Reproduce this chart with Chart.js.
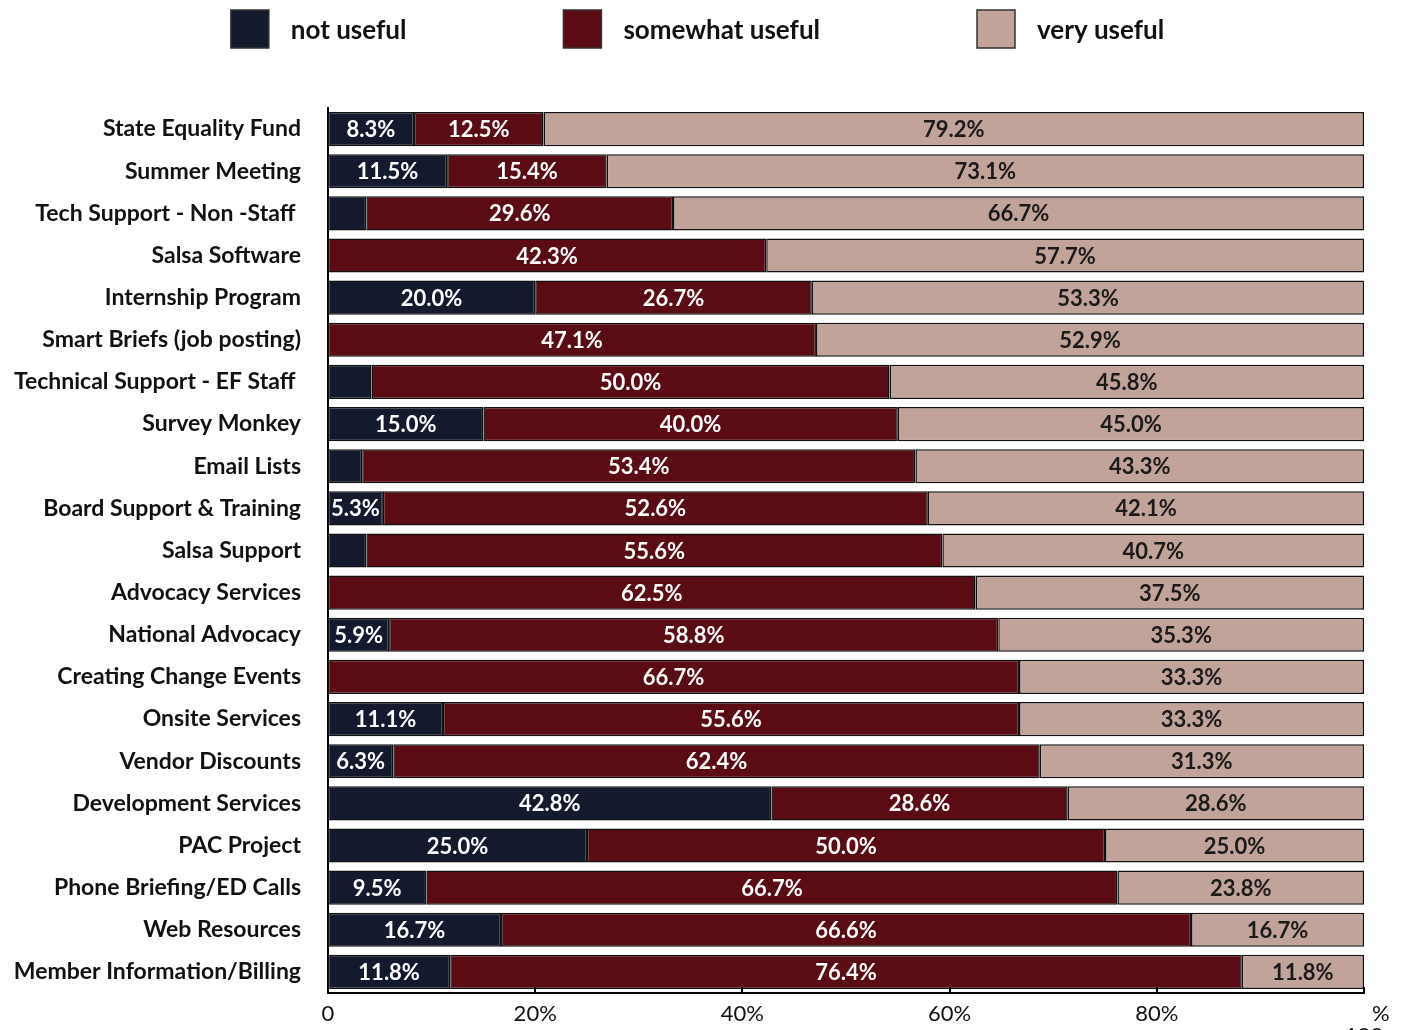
<!DOCTYPE html>
<html>
<head>
<meta charset="utf-8">
<script src="https://cdn.jsdelivr.net/npm/chart.js@4.4.1/dist/chart.umd.min.js"></script>
<style>
  html, body { margin: 0; padding: 0; background: #fff; }
  #wrap { width: 1407px; height: 1030px; }
</style>
</head>
<body>
<div id="wrap"><canvas id="usefulChart" width="1407" height="1030"></canvas></div>
<script>
const categories = [
  "State Equality Fund", "Summer Meeting", "Tech Support - Non -Staff ", "Salsa Software",
  "Internship Program", "Smart Briefs (job posting)", "Technical Support - EF Staff ",
  "Survey Monkey", "Email Lists", "Board Support & Training", "Salsa Support",
  "Advocacy Services", "National Advocacy", "Creating Change Events", "Onsite Services",
  "Vendor Discounts", "Development Services", "PAC Project", "Phone Briefing/ED Calls",
  "Web Resources", "Member Information/Billing"
];
const notUseful = [8.3, 11.5, 3.7, 0, 20.0, 0, 4.2, 15.0, 3.3, 5.3, 3.7, 0, 5.9, 0, 11.1, 6.3, 42.8, 25.0, 9.5, 16.7, 11.8];
const somewhatUseful = [12.5, 15.4, 29.6, 42.3, 26.7, 47.1, 50.0, 40.0, 53.4, 52.6, 55.6, 62.5, 58.8, 66.7, 55.6, 62.4, 28.6, 50.0, 66.7, 66.6, 76.4];
const veryUseful = [79.2, 73.1, 66.7, 57.7, 53.3, 52.9, 45.8, 45.0, 43.3, 42.1, 40.7, 37.5, 35.3, 33.3, 33.3, 31.3, 28.6, 25.0, 23.8, 16.7, 11.8];
const xTicks = [0, 20, 40, 60, 80, 100];

const FONT = "Lato, 'Open Sans', sans-serif";

// percentage text inside each segment (small slivers are left blank)
const segmentLabels = {
  id: "segmentLabels",
  afterDatasetsDraw(chart) {
    const ctx = chart.ctx;
    ctx.save();
    ctx.font = "bold 22px " + FONT;
    ctx.textAlign = "center";
    ctx.textBaseline = "middle";
    chart.data.datasets.forEach((ds, i) => {
      chart.getDatasetMeta(i).data.forEach((bar, j) => {
        const v = ds.data[j];
        if (v < 5) return;
        const c = bar.getCenterPoint();
        ctx.fillStyle = ds.labelColor;
        ctx.fillText(v.toFixed(1) + "%", c.x, c.y + 1);
      });
    });
    ctx.restore();
  }
};

// short tick marks pointing up from the bottom axis
const innerTicks = {
  id: "innerTicks",
  afterDraw(chart) {
    const ctx = chart.ctx, x = chart.scales.x, bottom = chart.chartArea.bottom;
    ctx.save();
    ctx.strokeStyle = "#000";
    ctx.lineWidth = 2;
    xTicks.forEach(t => {
      const px = Math.round(x.getPixelForValue(t));
      ctx.beginPath();
      ctx.moveTo(px, bottom);
      ctx.lineTo(px, bottom - 6);
      ctx.stroke();
    });
    ctx.restore();
  }
};

// legend row across the top: square swatch, then the series name
const topLegend = {
  id: "topLegend",
  afterDraw(chart) {
    const ctx = chart.ctx, box = 38, gap = 22, spacing = 157, cy = 29;
    ctx.save();
    ctx.font = "bold 26px " + FONT;
    ctx.textBaseline = "middle";
    const items = chart.data.datasets.map(ds => ({ ds, w: ctx.measureText(ds.label).width }));
    const total = items.reduce((s, it) => s + box + gap + it.w, 0) + spacing * (items.length - 1);
    let x = (chart.width - total) / 2 - 6;
    items.forEach(it => {
      ctx.fillStyle = it.ds.backgroundColor;
      ctx.fillRect(x, cy - box / 2, box, box);
      ctx.strokeStyle = "#333";
      ctx.lineWidth = 1.5;
      ctx.strokeRect(x, cy - box / 2, box, box);
      ctx.fillStyle = "#111";
      ctx.fillText(it.ds.label, x + box + gap, cy + 2);
      x += box + gap + it.w + spacing;
    });
    ctx.restore();
  }
};

new Chart(document.getElementById("usefulChart").getContext("2d"), {
  type: "bar",
  data: {
    labels: categories,
    datasets: [
      { label: "not useful", data: notUseful, backgroundColor: "#131a2e", labelColor: "#ffffff" },
      { label: "somewhat useful", data: somewhatUseful, backgroundColor: "#5b0b13", labelColor: "#ffffff" },
      { label: "very useful", data: veryUseful, backgroundColor: "#c1a39a", labelColor: "#1a1a1a" }
    ].map(d => Object.assign(d, {
      borderColor: "#111",
      borderWidth: 1.5,
      borderSkipped: false,
      categoryPercentage: 1,
      barPercentage: 0.81
    }))
  },
  options: {
    indexAxis: "y",
    responsive: false,
    maintainAspectRatio: false,
    animation: false,
    layout: { padding: { top: 108, right: 43, left: 0, bottom: 0 } },
    plugins: {
      tooltip: { enabled: false },
      legend: { display: false }
    },
    scales: {
      x: {
        stacked: true,
        min: 0,
        max: 100,
        afterBuildTicks(scale) { scale.ticks = xTicks.map(v => ({ value: v })); },
        afterFit(scale) { scale.height = 37; },
        grid: { display: false, drawTicks: false },
        border: { display: true, color: "#000", width: 2 },
        ticks: {
          padding: 10,
          color: "#111",
          maxRotation: 0,
          autoSkip: false,
          font: { family: FONT, size: 22, lineHeight: 1.0 },
          callback: v => v === 0 ? "0" : v === 100 ? ["      %", "100"] : v + "%"
        }
      },
      y: {
        stacked: true,
        afterFit(scale) {
          scale.width = 328;
          scale.paddingTop = 0;
          scale.paddingBottom = 0;
        },
        grid: { display: false, drawTicks: false },
        border: { display: true, color: "#000", width: 2 },
        ticks: {
          padding: 27,
          color: "#111",
          autoSkip: false,
          font: { family: FONT, size: 23, weight: "bold" }
        }
      }
    }
  },
  plugins: [segmentLabels, innerTicks, topLegend]
});
</script>
</body>
</html>
